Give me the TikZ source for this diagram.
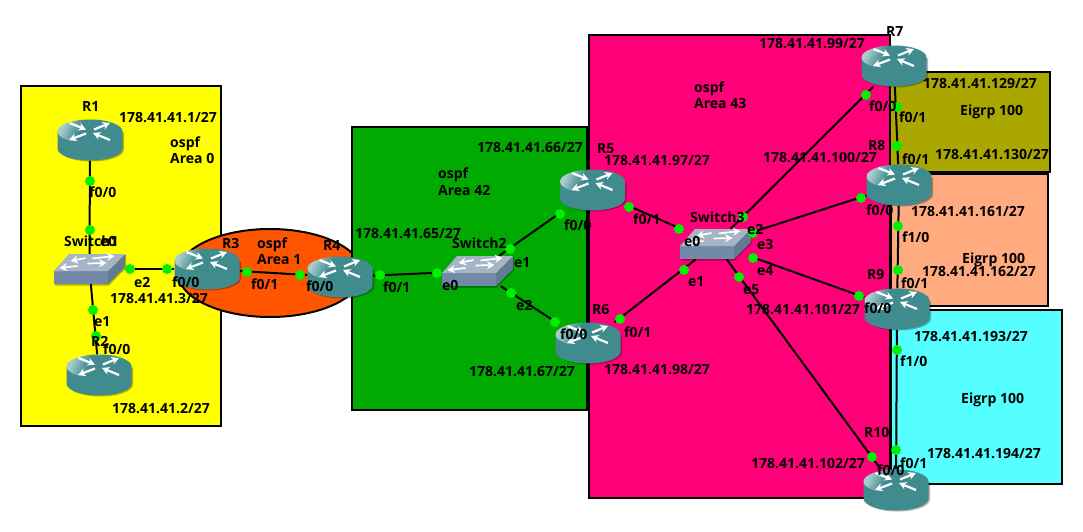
\documentclass[tikz,border=0pt]{standalone}
\usepackage{tikz}
\usepackage{xcolor}
\usepackage{fontspec}
\setmainfont{Open Sans}
\usetikzlibrary{arrows.meta}

\definecolor{areayellow}{HTML}{FFFF00}
\definecolor{areaorange}{HTML}{FF5500}
\definecolor{areagreen}{HTML}{00AA00}
\definecolor{areapink}{HTML}{FF0078}
\definecolor{areaolive}{HTML}{AAA800}
\definecolor{areasalmon}{HTML}{FFAA7F}
\definecolor{areacyan}{HTML}{55FFFF}
\definecolor{portgreen}{HTML}{00F000}
\definecolor{routerteal}{HTML}{3F8B8D}
\definecolor{routerlight}{HTML}{A9CDCD}
\definecolor{switchtop}{HTML}{A5B5C5}
\definecolor{switchfront}{HTML}{7389A8}
\definecolor{switchside}{HTML}{5F7C90}

\pgfdeclarehorizontalshading{routershade}{100bp}{color(0bp)=(routerlight); color(24bp)=(routerlight); color(40bp)=(routerteal); color(100bp)=(routerteal)}

\tikzset{
  area/.style={draw=black, line width=2pt},
  link/.style={draw=black, line width=2pt},
  routernode/.style={inner sep=0pt, minimum width=65pt, minimum height=41pt},
  switchnode/.style={inner sep=0pt, minimum width=71pt, minimum height=30pt},
  portdot/.style={circle, fill=portgreen, inner sep=0pt, minimum size=10pt},
  txt/.style={font=\bfseries\fontsize{14}{16}\selectfont, inner sep=0pt, anchor=base west, text=black},
  iconarrow/.style={draw=white, line width=2.2pt, -{Stealth[length=7.5pt,width=8pt]}},
  routericon/.pic={
    \fill[black, opacity=.3] (-31,-7.5) -- (-31,9.5) arc[start angle=180, end angle=0, x radius=32.5, y radius=12] -- (34,-7.5) -- cycle;
    \fill[routerteal] (-32.5,-8.5) -- (-32.5,8.5) arc[start angle=180, end angle=0, x radius=32.5, y radius=12] -- (32.5,-8.5) -- cycle;
    \shade[shading=routershade, shading angle=-25] (0,-8.5) ellipse[x radius=32.5, y radius=12];
    \draw[iconarrow] (-20.5,-17) -- (-4,-10.5);
    \draw[iconarrow] (4,-10.5) -- (20,-17);
    \draw[iconarrow] (-4,-6.5) -- (-21,0);
    \draw[iconarrow] (20,0) -- (3,-7);
  },
  switchicon/.pic={
    \fill[black, opacity=.3] (-34.5,3) -- (-34.5,16.5) -- (19.5,16.5) -- (36.5,-1) -- (36.5,-14) -- cycle;
    \fill[switchfront] (-35.5,2) -- (18.5,2) -- (18.5,15) -- (-35.5,15) -- cycle;
    \fill[switchside] (18.5,2) -- (35.5,-15) -- (35.5,-2) -- (18.5,15) -- cycle;
    \fill[switchtop] (-35.5,2) -- (-20.5,-15) -- (35.5,-15) -- (18.5,2) -- cycle;
    \draw[iconarrow, line width=1.7pt] (-4,-11) -- (-19,-8);
    \draw[iconarrow, line width=1.7pt] (3,-10.5) -- (25,-13);
    \draw[iconarrow, line width=1.7pt] (-12,-3) -- (-30,-1);
    \draw[iconarrow, line width=1.7pt] (-2,-5.5) -- (17,-6);
  },
}

\begin{document}
\begin{tikzpicture}[x=1pt, y=-1pt]
\useasboundingbox (0,0) rectangle (1083,532);

% areas
\draw[area, fill=areayellow] (21,86) rectangle (221,426);
\draw[area, fill=areaorange] (270,273) ellipse[x radius=92, y radius=44];
\draw[area, fill=areagreen] (352,127) rectangle (587,410);
\draw[area, fill=areapink] (589,35) rectangle (890,498);
\draw[area, fill=areaolive] (890,72) rectangle (1050,172);
\draw[area, fill=areasalmon] (891,174) rectangle (1048,306);
\draw[area, fill=areacyan] (891,310) rectangle (1062,484);

% devices
\foreach \name/\x/\y in {R1/90/140, R2/99/375, R3/207/269, R4/340/277, R5/592.5/190, R6/588/343, R7/894/66, R8/899/185, R9/897/309, R10/896/490}
  \node[routernode] (\name) at (\x,\y) {};
\foreach \name/\x/\y in {SW1/89.5/269, SW2/477.5/271, SW3/715.5/244}
  \node[switchnode] (\name) at (\x,\y) {};

% links
\draw[link] (R1) -- (SW1);
\draw[link] (SW1) -- (R2);
\draw[link] (SW1) -- (R3);
\draw[link] (R3) -- (R4);
\draw[link] (R4) -- (SW2);
\draw[link] (SW2) -- (R5);
\draw[link] (SW2) -- (R6);
\draw[link] (R5) -- (SW3);
\draw[link] (R6) -- (SW3);
\draw[link] (SW3) -- (R7);
\draw[link] (SW3) -- (R8);
\draw[link] (SW3) -- (R9);
\draw[link] (SW3) -- (R10);
\draw[link] (R7) -- (R8);
\draw[link] (R8) -- (R9);
\draw[link] (R9) -- (R10);

\foreach \name in {R1,R2,R3,R4,R5,R6,R7,R8,R9,R10}
  \pic at (\name) {routericon};
\foreach \name in {SW1,SW2,SW3}
  \pic at (\name) {switchicon};

% port dots
\foreach \i/\x/\y in {1/90/181, 2/90/230, 3/130/269, 4/167/269, 5/93/310, 6/96/336, 7/247/272, 8/300/275, 9/380/275, 10/437/273, 11/510/249, 12/560/214, 13/511/293, 14/555/322, 15/629/207, 16/679/229, 17/684/270, 18/620/319, 19/743/217, 20/866/95, 21/753/233, 22/861/198, 23/753/258, 24/859/296, 25/739/277, 26/872/457, 27/897/107, 28/897/146, 29/898/226, 30/898/270, 31/897/350, 32/896/450}
  \node[portdot] (dot\i) at (\x,\y) {};

% device names
\node[txt] (nameR1) at (82,111) {R1};
\node[txt] (nameR2) at (91,346) {R2};
\node[txt] (nameR3) at (222,248) {R3};
\node[txt] (nameR4) at (323,250) {R4};
\node[txt] (nameR5) at (597,153) {R5};
\node[txt] (nameR6) at (592,314) {R6};
\node[txt] (nameR7) at (886,37) {R7};
\node[txt] (nameR8) at (868,150) {R8};
\node[txt] (nameR9) at (867,279) {R9};
\node[txt] (nameR10) at (864,437) {R10};
\node[txt] (nameSW1) at (64,246) {Switch1};
\node[txt] (nameSW2) at (452,248) {Switch2};
\node[txt] (nameSW3) at (690,222) {Switch3};

% areas text
\node[txt] (ospf0) at (170,147) {ospf};
\node[txt] (area0) at (170,163) {Area 0};
\node[txt] (ospf1) at (257,248) {ospf};
\node[txt] (area1) at (257,264) {Area 1};
\node[txt] (ospf42) at (438,178) {ospf};
\node[txt] (area42) at (438,195) {Area 42};
\node[txt] (ospf43) at (694,93) {ospf};
\node[txt] (area43) at (694,109) {Area 43};
\node[txt] (eigrpA) at (960,116) {Eigrp 100};
\node[txt] (eigrpB) at (962,263) {Eigrp 100};
\node[txt] (eigrpC) at (961,403) {Eigrp 100};

% addresses
\node[txt] (ip1) at (119,122) {178.41.41.1/27};
\node[txt] (ip2) at (112,413) {178.41.41.2/27};
\node[txt] (ip3) at (110,303) {178.41.41.3/27};
\node[txt] (ip65) at (355,238) {178.41.41.65/27};
\node[txt] (ip66) at (477,152) {178.41.41.66/27};
\node[txt] (ip67) at (469,376) {178.41.41.67/27};
\node[txt] (ip97) at (604,165) {178.41.41.97/27};
\node[txt] (ip98) at (604,374) {178.41.41.98/27};
\node[txt] (ip99) at (759,49) {178.41.41.99/27};
\node[txt] (ip100) at (763,162) {178.41.41.100/27};
\node[txt] (ip101) at (746,314) {178.41.41.101/27};
\node[txt] (ip102) at (751,468) {178.41.41.102/27};
\node[txt] (ip129) at (923,89) {178.41.41.129/27};
\node[txt] (ip130) at (935,159) {178.41.41.130/27};
\node[txt] (ip161) at (911,216) {178.41.41.161/27};
\node[txt] (ip162) at (922,276) {178.41.41.162/27};
\node[txt] (ip193) at (914,341) {178.41.41.193/27};
\node[txt] (ip194) at (927,458) {178.41.41.194/27};

% ports
\node[txt] (p1) at (89,197) {f0/0};
\node[txt] (p2) at (100,246) {e0};
\node[txt] (p3) at (134,287) {e2};
\node[txt] (p4) at (172,287) {f0/0};
\node[txt] (p5) at (94,326) {e1};
\node[txt] (p6) at (103,354) {f0/0};
\node[txt] (p7) at (251,289) {f0/1};
\node[txt] (p8) at (306,291) {f0/0};
\node[txt] (p9) at (383,292) {f0/1};
\node[txt] (p10) at (442,290) {e0};
\node[txt] (p11) at (514,267) {e1};
\node[txt] (p12) at (516,310) {e2};
\node[txt] (p13) at (564,230) {f0/0};
\node[txt] (p14) at (633,224) {f0/1};
\node[txt] (p15) at (560,339) {f0/0};
\node[txt] (p16) at (624,337) {f0/1};
\node[txt] (p17) at (684,246) {e0};
\node[txt] (p18) at (688,286) {e1};
\node[txt] (p19) at (747,234) {e2};
\node[txt] (p20) at (757,249) {e3};
\node[txt] (p21) at (757,275) {e4};
\node[txt] (p22) at (743,294) {e5};
\node[txt] (p23) at (869,112) {f0/0};
\node[txt] (p24) at (899,123) {f0/1};
\node[txt] (p25) at (902,164) {f0/1};
\node[txt] (p26) at (866,215) {f0/0};
\node[txt] (p27) at (902,242) {f1/0};
\node[txt] (p28) at (901,288) {f0/1};
\node[txt] (p29) at (864,313) {f0/0};
\node[txt] (p30) at (900,366) {f1/0};
\node[txt] (p31) at (900,468) {f0/1};
\node[txt] (p32) at (877,475) {f0/0};
\end{tikzpicture}
\end{document}
